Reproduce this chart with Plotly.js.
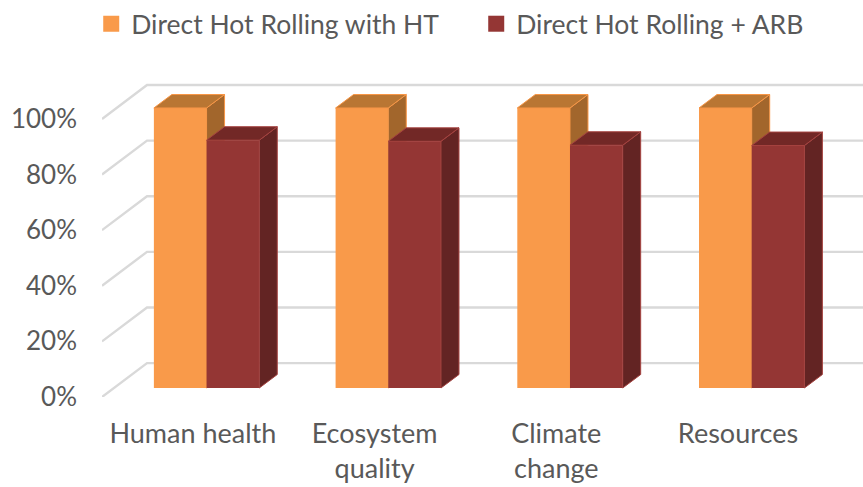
<!DOCTYPE html>
<html><head><meta charset="utf-8">
<script src="https://cdn.plot.ly/plotly-3.0.1.min.js"></script>
<style>html,body{margin:0;padding:0;background:#fff}</style></head>
<body><div id="chart" style="width:863px;height:487px"></div>
<script>
const categories = ["Human health", "Ecosystem<br>quality", "Climate<br>change", "Resources"];
const seriesNames = ["Direct Hot Rolling with HT", "Direct Hot Rolling + ARB"];
const hotRollingHT = [100, 100, 100, 100];
const hotRollingARB = [88.5, 88.1, 86.7, 86.6];
const tickVals = [0, 20, 40, 60, 80, 100];
const tickText = ["0%", "20%", "40%", "60%", "80%", "100%"];
const colorsA = {front:"#F99A4A", top:"#B97633", side:"#A2662C", edge:"#F79646"};
const colorsB = {front:"#943634", top:"#722826", side:"#632423", edge:"#A5423F"};
const gridColor = "#D9D9D9", textColor = "#595959", fontName = "Lato, Carlito, sans-serif";

// fake-3D projection, in axis units
const wallDX = 0.2477, wallDY = 12.2;     // from front plane to back wall
const floorDX = 0.0755, floorDY = 3.24;   // front plane to bar front
const barDX = 0.099, barDY = 4.84;        // bar depth
const barW = 0.29, barScale = 1.007;

const idx = categories.map((_, i) => i);

function wallTrace() {
  const xs = [], ys = [];
  const xEnd = 3.69;
  tickVals.forEach(v => {
    xs.push(-0.5, -0.5 + wallDX, xEnd, null);
    ys.push(v, v + wallDY, v + wallDY, null);
  });
  return {x: xs, y: ys, mode:"lines", line:{color:gridColor, width:2.4}, hoverinfo:"skip", showlegend:false, cliponaxis:false};
}
function poly(xs, ys, fill, edge, ax) {
  return Object.assign({x:xs, y:ys, mode:"lines", fill:"toself", fillcolor:fill, line:{color:edge, width:1},
    hoverinfo:"skip", showlegend:false}, ax);
}
function barSet(vals, slot, col, ax) {
  const cx = idx.map(i => i + floorDX + slot * barW / 2);
  const tops = vals.map(v => v * barScale + floorDY);
  const bar = Object.assign({type:"bar", x:cx, y:vals.map(v => v * barScale), base:idx.map(() => floorDY), width:barW,
    marker:{color:col.front, line:{width:0}}, hoverinfo:"skip", showlegend:false}, ax);
  const tx = [], ty = [], sx = [], sy = [];
  cx.forEach((c, k) => {
    const l = c - barW/2, r = c + barW/2, t = tops[k];
    tx.push(l, l+barDX, r+barDX, r, l, null);
    ty.push(t, t+barDY, t+barDY, t, t, null);
    sx.push(r, r+barDX, r+barDX, r, r, null);
    sy.push(floorDY, floorDY+barDY, t+barDY, t, floorDY, null);
  });
  return [bar, poly(sx, sy, col.side, col.edge, ax), poly(tx, ty, col.top, col.edge, ax)];
}
function legendItem(name, col, w) {
  const t = {x:[null], y:[null], name:name, mode:"markers", marker:{symbol:"square", size:18, color:col},
    hoverinfo:"skip", showlegend:true};
  if (w) t.legendwidth = w;
  return t;
}
const ax2 = {xaxis:"x2", yaxis:"y2"}, ax3 = {xaxis:"x3", yaxis:"y3"};
const data = [wallTrace()]
  .concat(barSet(hotRollingHT, -1, colorsA, ax2))
  .concat(barSet(hotRollingARB, 1, colorsB, ax3))
  .concat([legendItem(seriesNames[0], colorsA.front, 350), legendItem(seriesNames[1], colorsB.front)]);

const xr = [-0.5, 3.688], yr = [0, 117.6];
const xDom = [102/863, 1], yDom = [0, 327/397];
const layout = {
  width:863, height:487, margin:{l:0, r:0, t:0, b:90},
  paper_bgcolor:"#fff", plot_bgcolor:"rgba(0,0,0,0)",
  font:{family:fontName, color:textColor, size:26},
  barmode:"overlay",
  xaxis:{domain:xDom, range:xr, tickmode:"array", tickvals:idx, ticktext:categories, showgrid:false, zeroline:false, showline:false,
    ticks:"", ticklabelstandoff:18, tickfont:{size:27, color:textColor}},
  yaxis:{domain:yDom, range:yr, tickmode:"array", tickvals:tickVals, ticktext:tickText, showgrid:false, zeroline:false, showline:false,
    ticks:"", ticklabelstandoff:24, tickfont:{size:26, color:textColor}},
  xaxis2:{domain:xDom, range:xr, overlaying:"x", visible:false},
  yaxis2:{domain:yDom, range:yr, overlaying:"y", anchor:"x2", visible:false},
  xaxis3:{domain:xDom, range:xr, overlaying:"x", visible:false},
  yaxis3:{domain:yDom, range:yr, overlaying:"y", anchor:"x3", visible:false},
  legend:{orientation:"h", x:0.1173, xanchor:"left", y:1, yanchor:"top", indentation:-10,
    bgcolor:"rgba(0,0,0,0)", font:{size:26.5, color:textColor}, traceorder:"normal"},
  showlegend:true
};
Plotly.newPlot("chart", data, layout, {staticPlot:true, displayModeBar:false});
</script></body></html>
